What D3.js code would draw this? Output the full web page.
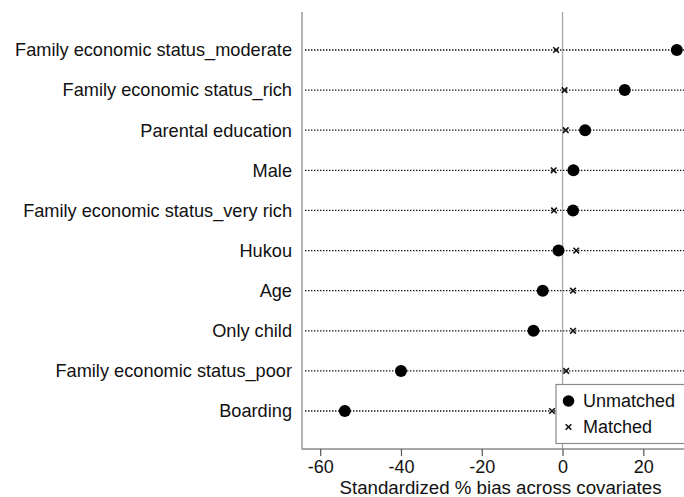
<!DOCTYPE html>
<html><head><meta charset="utf-8">
<script src="https://cdn.jsdelivr.net/npm/d3@7"></script>
<style>body{margin:0;background:#fff}svg{display:block}text{font-family:"Liberation Sans",Arial,sans-serif;fill:#111}</style>
</head><body><svg id="c" width="684" height="497"></svg>
<script>
const categories = ["Family economic status_moderate","Family economic status_rich","Parental education","Male","Family economic status_very rich","Hukou","Age","Only child","Family economic status_poor","Boarding"];
const unmatched = [28.3, 15.4, 5.6, 2.7, 2.6, -1.0, -4.9, -7.2, -40.0, -53.9];
const matched = [-1.6, 0.5, 0.8, -2.2, -2.1, 3.4, 2.6, 2.6, 0.9, -2.6];
const xTicks = [-60, -40, -20, 0, 20];
const xTitle = "Standardized % bias across covariates";
const legendLabels = ["Unmatched", "Matched"];

const svg = d3.select("#c");
const x = d3.scaleLinear().domain([-60, 20]).range([320.2, 643.3]);
const y = d3.scalePoint().domain(categories).range([50, 411]);
const plotLeft = 302, plotRight = 700, plotTop = 12, plotBottom = 449;

// row dotted lines
svg.append("g").selectAll("line").data(categories).join("line")
  .attr("x1", plotLeft + 3).attr("x2", plotRight)
  .attr("y1", d => y(d)).attr("y2", d => y(d))
  .attr("stroke", "#111").attr("stroke-width", 1.3).attr("stroke-dasharray", "1.4,1.6");

// zero line
svg.append("line").attr("x1", x(0)).attr("x2", x(0)).attr("y1", plotTop).attr("y2", plotBottom)
  .attr("stroke", "#a8a8a8").attr("stroke-width", 1.3);

// frame left + bottom
svg.append("path").attr("d", `M${plotLeft},${plotTop}V${plotBottom}H${plotRight}`)
  .attr("fill", "none").attr("stroke", "#8a8a8a").attr("stroke-width", 1.3);

// x axis
const xAxis = d3.axisBottom(x).tickValues(xTicks).tickSize(7).tickPadding(4).tickFormat(d => String(d));
const gx = svg.append("g").attr("transform", `translate(0,${plotBottom})`).call(xAxis);
gx.select(".domain").remove();
gx.selectAll(".tick line").attr("stroke", "#555").attr("stroke-width", 1.2);
gx.selectAll(".tick text").attr("font-size", 18).attr("font-family", "Liberation Sans, Arial, sans-serif").attr("fill", "#111").attr("dy", "0.71em");

svg.append("text").attr("x", 500.5).attr("y", 494).attr("text-anchor", "middle")
  .attr("font-size", 18.7).text(xTitle);

// y labels
svg.append("g").selectAll("text").data(categories).join("text")
  .attr("x", 292).attr("y", d => y(d)).attr("dy", "0.35em").attr("text-anchor", "end")
  .attr("font-size", 18.2).text(d => d);

const cross = (g, cx, cy, s) => g.append("path")
  .attr("d", `M${cx-s},${cy-s}L${cx+s},${cy+s}M${cx-s},${cy+s}L${cx+s},${cy-s}`)
  .attr("stroke", "#111").attr("stroke-width", 1.6).attr("fill", "none");

// matched crosses
const gm = svg.append("g");
categories.forEach((c, i) => cross(gm, x(matched[i]), y(c), 2.8));

// unmatched dots
svg.append("g").selectAll("circle").data(categories).join("circle")
  .attr("cx", (d, i) => x(unmatched[i])).attr("cy", d => y(d)).attr("r", 6).attr("fill", "#000");

// legend
const lg = svg.append("g");
lg.append("rect").attr("x", 556).attr("y", 384.5).attr("width", 140).attr("height", 59)
  .attr("fill", "#fff").attr("stroke", "#8a8a8a").attr("stroke-width", 1.2);
lg.append("circle").attr("cx", 568.5).attr("cy", 401).attr("r", 5.8).attr("fill", "#000");
cross(lg, 568.5, 427, 2.8);
lg.selectAll("text").data(legendLabels).join("text")
  .attr("x", 583).attr("y", (d, i) => 407 + i * 26).attr("font-size", 18).text(d => d);
</script></body></html>
